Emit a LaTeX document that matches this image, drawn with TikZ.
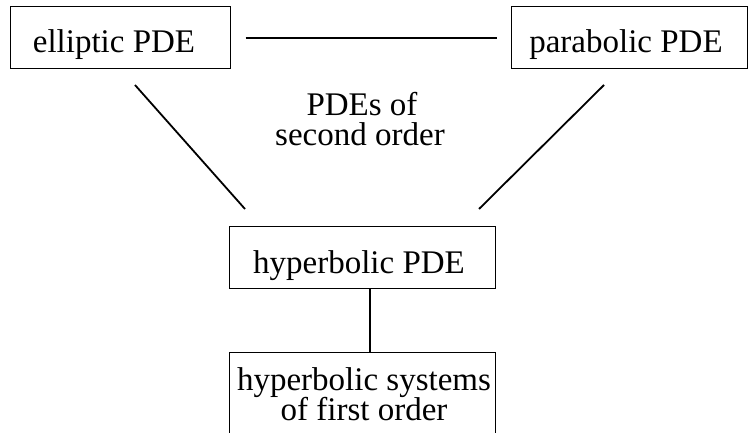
\documentclass[tikz,border=0pt]{standalone}
\usepackage{fontspec}
\setmainfont{Liberation Serif}
\begin{document}
\begin{tikzpicture}[x=1pt,y=-1pt,
  box/.style={draw,line width=1pt,inner sep=0pt},
  lbl/.style={inner sep=0pt,anchor=base,font=\fontsize{33}{33}\selectfont,align=center},
  link/.style={line width=1.8pt}]
\useasboundingbox (0,0) rectangle (749,433);
\clip (0,0) rectangle (749,433);
% boxes
\node[box,minimum width=220pt,minimum height=62pt] (ell) at (120,38) {};
\node[box,minimum width=236pt,minimum height=62pt] (par) at (629,38) {};
\node[box,minimum width=266pt,minimum height=62pt] (hyp) at (362,257) {};
\node[box,minimum width=266pt,minimum height=120pt] (sys) at (362,412) {};
% texts
\node[lbl] (ellT) at (114,53) {elliptic PDE};
\node[lbl] (parT) at (626,53) {parabolic PDE};
\node[lbl] (hypT) at (359,273) {hyperbolic PDE};
\node[lbl] (sysA) at (364,390) {hyperbolic systems};
\node[lbl] (sysB) at (364,420) {of first order};
\node[lbl] (midA) at (362,116) {PDEs of};
\node[lbl] (midB) at (360,146) {second order};
% connectors
\draw[link,shorten <=15pt,shorten >=14pt] (ell.east |- 0,38) -- (par.west |- 0,38);
\coordinate (lt) at (135,85);
\coordinate (lb) at (245,209);
\coordinate (rt) at (604,85);
\coordinate (rb) at (479,209);
\draw[link] (lt) -- (lb);
\draw[link] (rt) -- (rb);
\coordinate (vx) at (370,0);
\draw[link] (hyp.south -| vx) -- (sys.north -| vx);
\end{tikzpicture}
\end{document}
